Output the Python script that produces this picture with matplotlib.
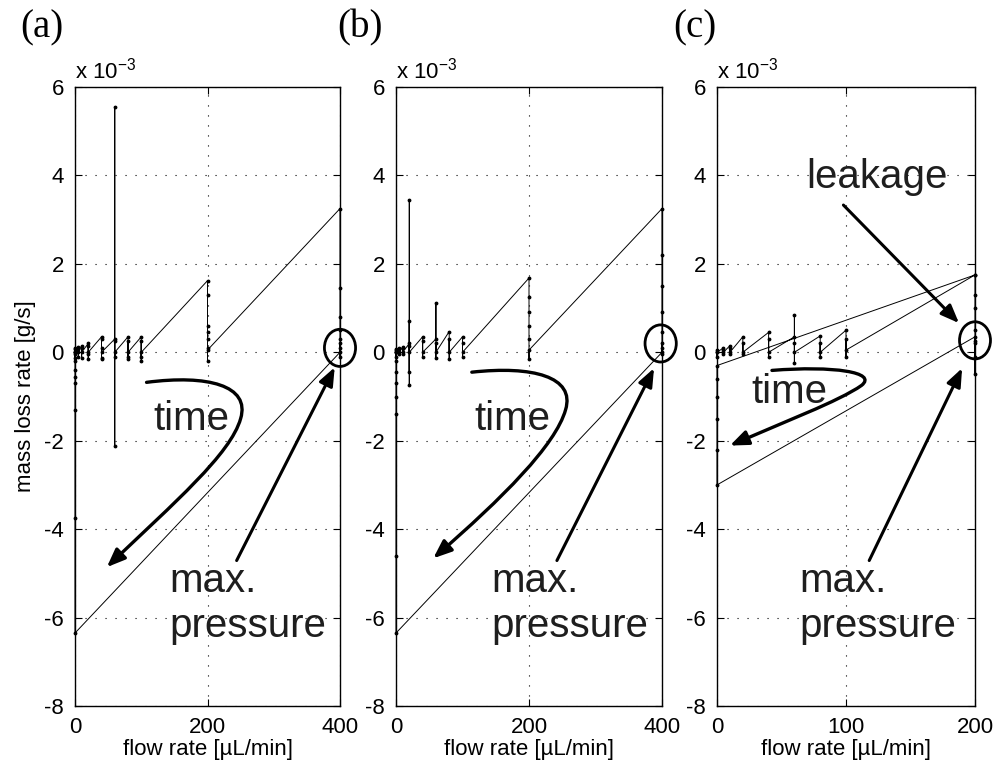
import matplotlib
matplotlib.use('Agg')
import matplotlib.pyplot as plt
from matplotlib.patches import Ellipse, FancyArrowPatch
from matplotlib.path import Path

plt.rcParams['font.family'] = ['Liberation Sans', 'DejaVu Sans']
plt.rcParams['mathtext.default'] = 'regular'
plt.rcParams['axes.unicode_minus'] = False

# flow rate steps [uL/min] and the mass loss rate [1e-3 g/s] measured at each step, in time order
steps_a = [0, 5, 10, 20, 40, 60, 80, 100, 200, 400, 0]
rates_a = [
    [0.0, 0.08, -0.12, 0.1, -0.05, 0.0],
    [0.12, -0.1, 0.08, 0.0],
    [0.15, -0.12, 0.1, 0.0],
    [0.2, -0.15, 0.15, -0.05, 0.0],
    [0.35, -0.12, 0.3, -0.15, 0.1, 0.0],
    [0.3, 5.55, -2.12, 0.25, -0.1, 0.0],
    [0.35, -0.15, 0.25, -0.1, 0.0],
    [0.35, -0.2, 0.25, -0.1, 0.0],
    [1.62, 1.3, 0.6, 0.45, 0.3, 0.1, -0.2, 0.05],
    [3.25, 1.45, 0.8, 0.5, 0.3, 0.1, -0.1, 0.2, 0.0],
    [-6.35, -3.75, -1.3, -0.7, -0.55, -0.4, -0.2, 0.0],
]

steps_b = [0, 5, 10, 20, 40, 60, 80, 100, 200, 400, 0]
rates_b = [
    [0.0, 0.08, -0.1, 0.05, 0.0],
    [0.1, -0.05, 0.08, 0.0],
    [0.12, -0.05, 0.1, 0.0],
    [0.2, 3.45, -0.75, 0.7, -0.45, 0.15, 0.0],
    [0.35, -0.1, 0.25, 0.0],
    [0.3, 1.12, -0.12, 0.2, 0.0],
    [0.47, -0.15, 0.3, 0.0],
    [0.35, -0.1, 0.2, 0.0],
    [1.68, 1.25, 0.9, 0.6, 0.3, -0.15, 0.05],
    [3.25, 2.2, 1.5, 0.9, 0.45, 0.1, -0.05, 0.2, 0.0],
    [-6.35, -4.6, -1.4, -1.0, -0.7, -0.45, -0.2, 0.0],
]

steps_c = [0, 5, 10, 20, 40, 60, 80, 100, 200, 0, 200]
rates_c = [
    [0.0, -0.1, 0.05, 0.0],
    [0.1, -0.05, 0.05, 0.0],
    [0.15, -0.05, 0.1, 0.0],
    [0.35, -0.05, 0.2, 0.0],
    [0.45, -0.1, 0.3, 0.0],
    [0.35, 0.84, -0.25, 0.2, 0.0],
    [0.37, -0.1, 0.2, 0.0],
    [0.5, -0.1, 0.3, 0.05],
    [1.75, 1.3, 1.0, 0.5, 0.25, -0.1, 0.2, -0.48, 0.35],
    [-3.0, -2.2, -1.5, -1.0, -0.6, -0.3],
    [1.75],
]

yticks = [-8, -6, -4, -2, 0, 2, 4, 6]
xticks_ab = [0, 200, 400]
xticks_c = [0, 100, 200]
panel_names = ['(a)', '(b)', '(c)']

W, H = 997, 765
fig = plt.figure(figsize=(W / 100, H / 100), dpi=100)

def px_axes(left, right, top=87, bottom=706):
    return fig.add_axes([left / W, 1 - bottom / H, (right - left) / W, (bottom - top) / H])

ax_a = px_axes(75, 340)
ax_b = px_axes(396, 662)
ax_c = px_axes(717, 975)
axes = [ax_a, ax_b, ax_c]

def flatten(steps, rates):
    xs, ys = [], []
    for s, r in zip(steps, rates):
        xs += [s] * len(r)
        ys += r
    return xs, ys

data = [(steps_a, rates_a, xticks_ab), (steps_b, rates_b, xticks_ab), (steps_c, rates_c, xticks_c)]
for ax, (steps, rates, xt) in zip(axes, data):
    xs, ys = flatten(steps, rates)
    ax.plot(xs, ys, '-', color='k', lw=0.7, marker='.', ms=3.5, clip_on=False, zorder=3)
    ax.set_xlim(xt[0], xt[-1])
    ax.set_ylim(-8, 6)
    ax.set_xticks(xt)
    ax.set_yticks(yticks)
    ax.grid(True, color='k', linestyle=(0, (1, 8)), lw=0.8)
    ax.tick_params(direction='in', length=5, top=True, right=True, labelsize=16, pad=8)
    for sp in ax.spines.values():
        sp.set_linewidth(1.0)
    ax.set_xlabel('flow rate [\u00b5L/min]', fontsize=16, labelpad=1)
    ax.text(0, 1 + 9 / 619, 'x 10$^{-3}$', transform=ax.transAxes, ha='left', va='baseline', fontsize=16)

ax_a.set_ylabel('mass loss rate [g/s]', fontsize=16, labelpad=6)

for name, cx in zip(panel_names, [42, 360, 695]):
    fig.text(cx / W, 1 - 28 / H, name, ha='center', va='center', fontsize=28, family='Liberation Serif')

afont = dict(fontsize=29, family=['Liberation Sans', 'DejaVu Sans'], color='#1e1e1e')
head = '-|>,head_length=0.55,head_width=0.22'

def arrow(ax, p0, p1):
    ax.add_patch(FancyArrowPatch(p0, p1, arrowstyle=head, mutation_scale=20, lw=2.2,
                                 color='k', shrinkA=0, shrinkB=0, clip_on=False, zorder=5))

def curved(ax, verts):
    codes = [Path.MOVETO] + [Path.CURVE4] * (len(verts) - 1)
    ax.add_patch(FancyArrowPatch(path=Path(verts, codes), arrowstyle=head, mutation_scale=20,
                                 lw=2.4, color='k', clip_on=False, zorder=5))

def ring(ax, x, y, w, h):
    ax.add_patch(Ellipse((x, y), w, h, fill=False, lw=2.0, color='k', clip_on=False, zorder=6))

# (a)
ax_a.text(176, -1.76, 'time', ha='center', va='baseline', **afont)
ax_a.text(143, -5.43, 'max.', ha='left', va='baseline', **afont)
ax_a.text(143, -6.45, 'pressure', ha='left', va='baseline', **afont)
curved(ax_a, [(108, -0.68), (200, -0.5), (265, -0.75), (250, -1.5),
              (235, -2.3), (150, -3.4), (48, -4.86)])
arrow(ax_a, (244, -4.71), (392, -0.34))
ring(ax_a, 400, 0.1, 47, 0.84)

# (b)
ax_b.text(175, -1.76, 'time', ha='center', va='baseline', **afont)
ax_b.text(144, -5.43, 'max.', ha='left', va='baseline', **afont)
ax_b.text(144, -6.45, 'pressure', ha='left', va='baseline', **afont)
curved(ax_b, [(114, -0.45), (205, -0.3), (270, -0.55), (255, -1.3),
              (240, -2.1), (160, -3.3), (56, -4.66)])
arrow(ax_b, (242, -4.71), (388, -0.36))
ring(ax_b, 398, 0.2, 47, 0.84)

# (c)
ax_c.text(56, -1.15, 'time', ha='center', va='baseline', **afont)
ax_c.text(124, 3.71, 'leakage', ha='center', va='baseline', **afont)
ax_c.text(64, -5.43, 'max.', ha='left', va='baseline', **afont)
ax_c.text(64, -6.45, 'pressure', ha='left', va='baseline', **afont)
curved(ax_c, [(42.6, -0.41), (90, -0.3), (125, -0.45), (112, -0.75),
              (95, -1.1), (50, -1.6), (10, -2.11)])
arrow(ax_c, (98, 3.33), (187.6, 0.66))
arrow(ax_c, (118, -4.71), (190, -0.36))
ring(ax_c, 200, 0.27, 24, 0.84)

fig.savefig('out.png', dpi=100)
